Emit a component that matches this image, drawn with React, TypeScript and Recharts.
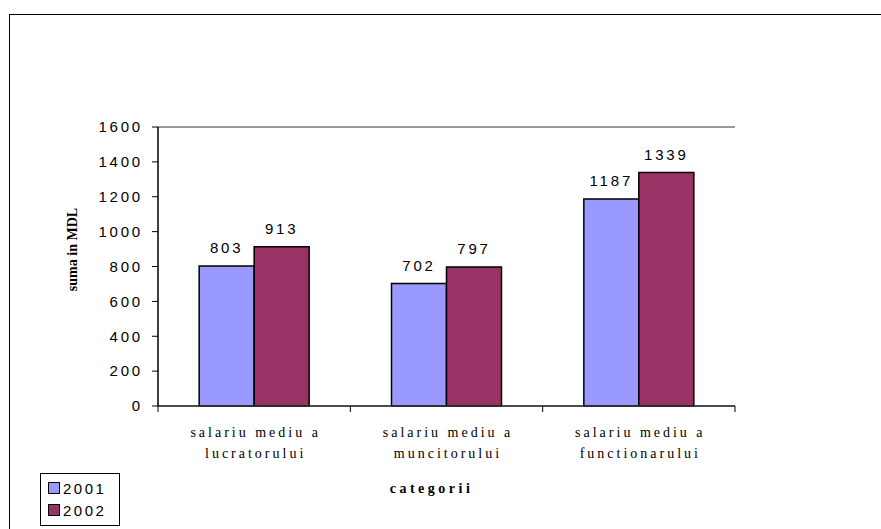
import React from "react";
import {
  Bar,
  BarChart,
  CartesianGrid,
  LabelList,
  Legend,
  XAxis,
  YAxis,
} from "recharts";

const categories = [
  ["salariu mediu a", "lucratorului"],
  ["salariu mediu a", "muncitorului"],
  ["salariu mediu a", "functionarului"],
];
const values2001 = [803, 702, 1187];
const values2002 = [913, 797, 1339];
const yTicks = [0, 200, 400, 600, 800, 1000, 1200, 1400, 1600];

const series = [
  { key: "y2001", name: "2001", color: "#9999FF" },
  { key: "y2002", name: "2002", color: "#993366" },
];

const data = categories.map((lines, i) => ({
  label: lines.join(" "),
  y2001: values2001[i],
  y2002: values2002[i],
}));

const SANS = "'Liberation Sans', Arial, sans-serif";
const SERIF = "'Liberation Serif', 'Times New Roman', serif";

// category label in two lines, plus the tick marks on the band edges
function CategoryTick(props: any) {
  const { x, y, payload } = props;
  const idx = payload.index;
  const half = payload.offset || 0;
  const lines = categories[idx] || [String(payload.value)];
  const last = idx === categories.length - 1;
  return (
    <g>
      <line x1={x - half} x2={x - half} y1={y} y2={y + 6} stroke="#000" />
      {last && (
        <line x1={x + half} x2={x + half} y1={y} y2={y + 6} stroke="#000" />
      )}
      <text
        x={x}
        y={y}
        textAnchor="middle"
        fontFamily={SERIF}
        fontSize={14}
        fill="#000"
        style={{ letterSpacing: 3 }}
      >
        {lines.map((ln, i) => (
          <tspan key={i} x={x + 1.5} dy={i === 0 ? 31 : 21}>
            {ln}
          </tspan>
        ))}
      </text>
    </g>
  );
}

function LegendBox(props: any) {
  const items = props.payload || [];
  return (
    <div
      style={{
        border: "1px solid #000",
        width: 80,
        padding: "3px 0 4px 0",
        background: "#fff",
        boxSizing: "border-box",
      }}
    >
      {items.map((it: any) => (
        <div
          key={it.value}
          style={{
            display: "flex",
            alignItems: "center",
            height: 22,
            paddingLeft: 7,
            fontFamily: SANS,
            fontSize: 15,
            letterSpacing: 2.5,
          }}
        >
          <span
            style={{
              display: "inline-block",
              width: 10,
              height: 10,
              background: it.color,
              border: "1.5px solid #000",
              marginRight: 3,
            }}
          />
          {it.value}
        </div>
      ))}
    </div>
  );
}

export default function App() {
  return (
    <div
      style={{
        position: "absolute",
        left: 0,
        top: 0,
        width: 881,
        height: 529,
        overflow: "hidden",
        background: "#fff",
      }}
    >
      <div
        style={{
          position: "absolute",
          left: 9,
          top: 14,
          width: 1000,
          height: 800,
          border: "1.5px solid #000",
        }}
      />
      <div style={{ position: "absolute", left: 0, top: 0 }}>
        <BarChart
          width={881}
          height={529}
          data={data}
          margin={{ top: 127, right: 146, left: 98, bottom: 3 }}
          barCategoryGap="21.4%"
          barGap={0}
        >
          <CartesianGrid vertical={false} stroke="#333" strokeWidth={1} />
          <XAxis
            xAxisId="cat"
            dataKey="label"
            height={120}
            axisLine={{ stroke: "#333", strokeWidth: 1.5 }}
            tickLine={false}
            tickSize={0}
            tickMargin={0}
            interval={0}
            tick={<CategoryTick />}
            label={{
              content: (p: any) => {
                const vb = p.viewBox;
                return (
                  <text
                    x={vb.x + vb.width / 2 - 15}
                    y={vb.y + 87}
                    textAnchor="middle"
                    fontFamily={SERIF}
                    fontWeight="bold"
                    fontSize={14}
                    fill="#000"
                    style={{ letterSpacing: 3.5 }}
                  >
                    categorii
                  </text>
                );
              },
            }}
          />
          <YAxis
            yAxisId="left"
            width={60}
            domain={[0, 1600]}
            ticks={yTicks}
            interval={0}
            axisLine={{ stroke: "#000", strokeWidth: 1.5 }}
            tickLine={{ stroke: "#000" }}
            tickSize={6}
            tickMargin={9}
            tick={{
              fill: "#000",
              fontFamily: SANS,
              fontSize: 15,
              style: { letterSpacing: 2.8 },
            }}
            label={{
              content: (p: any) => {
                const vb = p.viewBox;
                const cx = vb.x - 26;
                const cy = vb.y + vb.height / 2 - 17;
                return (
                  <text
                    x={cx}
                    y={cy}
                    transform={`rotate(-90 ${cx} ${cy})`}
                    textAnchor="middle"
                    dominantBaseline="central"
                    fontFamily={SERIF}
                    fontWeight="bold"
                    fontSize={14}
                    fill="#000"
                  >
                    suma in MDL
                  </text>
                );
              },
            }}
          />
          <YAxis
            yAxisId="frame"
            orientation="right"
            width={0}
            domain={[0, 1600]}
            tick={false}
            tickLine={false}
            axisLine={{ stroke: "#808080", strokeWidth: 1.5 }}
          />
          <Legend
            layout="horizontal"
            verticalAlign="middle"
            align="center"
            wrapperStyle={{ left: 40, top: 473, width: 80 }}
            content={<LegendBox />}
          />
          {series.map((s) => (
            <Bar
              key={s.key}
              dataKey={s.key}
              name={s.name}
              xAxisId="cat"
              yAxisId="left"
              fill={s.color}
              stroke="#000"
              strokeWidth={1.5}
              isAnimationActive={false}
            >
              <LabelList
                dataKey={s.key}
                position="top"
                offset={13}
                fill="#000"
                fontFamily={SANS}
                fontSize={15}
                style={{ letterSpacing: 2.8 }}
              />
            </Bar>
          ))}
        </BarChart>
      </div>
    </div>
  );
}
